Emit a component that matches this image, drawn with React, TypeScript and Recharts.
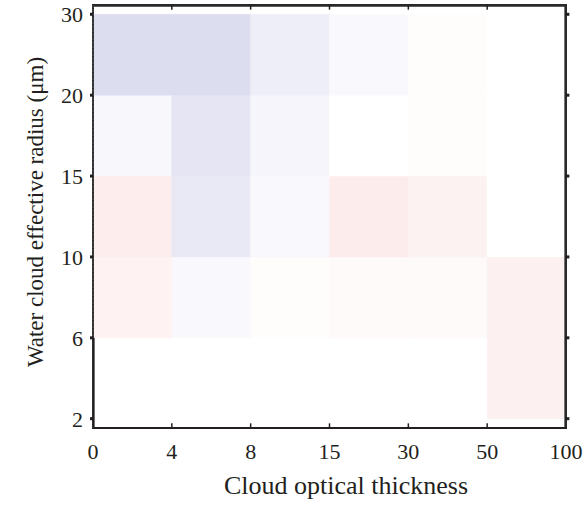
import React from 'react';
import { ScatterChart, Scatter, XAxis, YAxis, ReferenceArea } from 'recharts';

// Bin edges
const xEdgeLabels = ['0', '4', '8', '15', '30', '50', '100'];
const yEdgeLabels = ['2', '6', '10', '15', '20', '30'];
const xTitle = 'Cloud optical thickness';
const yTitle = 'Water cloud effective radius (μm)';

// Cell anomaly values (negative = blue/lavender, positive = red); columns are optical-thickness bins
const row2to6 = [0, 0, 0, 0, 0, 0.25];
const row6to10 = [0.21, -0.05, 0.05, 0.09, 0.09, 0.25];
const row10to15 = [0.3, -0.19, -0.05, 0.32, 0.22, 0];
const row15to20 = [-0.07, -0.23, -0.09, 0, 0.05, 0];
const row20to30 = [-0.3, -0.3, -0.15, -0.05, 0.05, 0];
const rows = [row2to6, row6to10, row10to15, row15to20, row20to30];

const cells = rows.flatMap((r, j) => r.map((v, i) => ({ x: i, y: j, v })));

const xTicks = xEdgeLabels.map((_, i) => i);
const yTicks = yEdgeLabels.map((_, i) => i);
const innerXTicks = xTicks.slice(1, -1);

function colorFor(v: number): string {
  let r = 255, g = 255, b = 255;
  if (v < 0) {
    const a = -v;
    r = 255 - 115 * a; g = 255 - 115 * a; b = 255 - 50 * a;
  } else if (v > 0) {
    r = 255 - 7 * v; g = 255 - 60 * v; b = 255 - 60 * v;
  }
  return `rgb(${Math.round(r)},${Math.round(g)},${Math.round(b)})`;
}

const FONT = '"Liberation Serif", "Times New Roman", serif';
const INK = '#231f20';
const YPAD = 0.115;
const XMAX = xEdgeLabels.length - 1;
const YMAX = yEdgeLabels.length - 1;
const YTOP = YMAX + YPAD;
const YBOT = -YPAD;
const EPS = 0.008;

// frame decoration anchor points (data units), placed through the axes' scales
const topTickPts = innerXTicks.map((t) => ({ x: t, y: YTOP - EPS, kind: 'down' }));
const bottomTickPts = innerXTicks.map((t) => ({ x: t, y: YBOT + EPS, kind: 'up' }));
const rightTickPts = yTicks.map((t) => ({ x: XMAX - EPS, y: t, kind: 'right' }));
const framePts = [
  { x: 0, y: YTOP - EPS },
  { x: XMAX - EPS, y: YTOP - EPS },
  { x: XMAX - EPS, y: YBOT + EPS },
];
const leftLowPts = [
  { x: EPS, y: YBOT + EPS },
  { x: EPS, y: 1 },
];

const TickMark = (p: any) => {
  const { cx, cy, payload } = p;
  if (cx == null || cy == null) return <g />;
  if (payload && payload.kind === 'down') return <line x1={cx} y1={cy - 1} x2={cx} y2={cy + 4} stroke={INK} strokeWidth={1.5} />;
  if (payload && payload.kind === 'up') return <line x1={cx} y1={cy + 1} x2={cx} y2={cy - 4} stroke={INK} strokeWidth={1.5} />;
  return <line x1={cx} y1={cy} x2={cx + 4} y2={cy} stroke={INK} strokeWidth={3} />;
};

const Empty = () => <g />;

export default function App() {
  return (
    <div style={{ position: 'absolute', left: 0, top: 0, width: 585, height: 511 }}>
      <ScatterChart width={585} height={511} margin={{ top: 5, right: 19, left: 0, bottom: 0 }}>
        <XAxis
          xAxisId="b"
          type="number"
          dataKey="x"
          domain={[0, XMAX]}
          ticks={xTicks}
          interval={0}
          tickFormatter={(i: number) => xEdgeLabels[i]}
          height={83}
          tickLine={false}
          tickSize={0}
          tickMargin={15}
          axisLine={{ stroke: INK, strokeWidth: 2 }}
          tick={{ fill: INK, fontSize: 22, fontFamily: FONT }}
        />
        <YAxis
          yAxisId="l"
          type="number"
          dataKey="y"
          domain={[YBOT, YTOP]}
          ticks={yTicks}
          interval={0}
          tickFormatter={(i: number) => yEdgeLabels[i]}
          width={93}
          tickSize={3}
          tickMargin={7}
          tickLine={{ stroke: INK, strokeWidth: 3 }}
          axisLine={{ stroke: '#444', strokeWidth: 1.5, strokeDasharray: '3 1' }}
          tick={{ fill: INK, fontSize: 22, fontFamily: FONT }}
        />
        {cells.map((c) => (
          <ReferenceArea
            key={`${c.x}-${c.y}`}
            xAxisId="b"
            yAxisId="l"
            x1={c.x}
            x2={c.x + 1}
            y1={c.y}
            y2={c.y + 1}
            fill={colorFor(c.v)}
            fillOpacity={1}
            stroke={colorFor(c.v)}
            strokeWidth={0.5}
            ifOverflow="visible"
          />
        ))}
        <ReferenceArea
          xAxisId="b"
          yAxisId="l"
          x1={0}
          x2={XMAX}
          y1={YBOT}
          y2={YTOP}
          fill="none"
          fillOpacity={0}
          stroke="#2a2a2a"
          strokeWidth={2}
          ifOverflow="visible"
        />
        <Scatter xAxisId="b" yAxisId="l" data={framePts} line={{ stroke: '#2a2a2a', strokeWidth: 2 }} shape={Empty} isAnimationActive={false} />
        <Scatter xAxisId="b" yAxisId="l" data={leftLowPts} line={{ stroke: INK, strokeWidth: 2 }} shape={Empty} isAnimationActive={false} />
        <Scatter xAxisId="b" yAxisId="l" data={topTickPts} shape={TickMark} isAnimationActive={false} />
        <Scatter xAxisId="b" yAxisId="l" data={bottomTickPts} shape={TickMark} isAnimationActive={false} />
        <Scatter xAxisId="b" yAxisId="l" data={rightTickPts} shape={TickMark} isAnimationActive={false} />
      </ScatterChart>
      <svg
        width={585}
        height={511}
        style={{ position: 'absolute', left: 0, top: 0, pointerEvents: 'none' }}
      >
        <text x={346} y={494} textAnchor="middle" fill={INK} fontSize={26} fontFamily={FONT}>
          {xTitle}
        </text>
        <text x={43} y={212} transform="rotate(-90, 43, 212)" textAnchor="middle" fill={INK} fontSize={23} fontFamily={FONT}>
          {yTitle}
        </text>
      </svg>
    </div>
  );
}
